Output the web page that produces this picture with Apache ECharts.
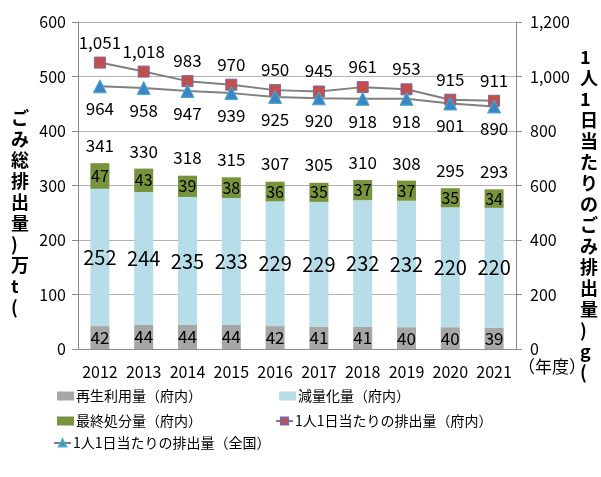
<!DOCTYPE html>
<html>
<head>
<meta charset="utf-8">
<script src="https://cdn.jsdelivr.net/npm/echarts@6/dist/echarts.min.js"></script>
<style>
html, body { margin: 0; padding: 0; background: #fff; }
#main { width: 601px; height: 477px; }
</style>
</head>
<body>
<div id="main"></div>
<script>
// 年度
var years = ['2012', '2013', '2014', '2015', '2016', '2017', '2018', '2019', '2020', '2021'];
// 万t
var recycle = [42, 44, 44, 44, 42, 41, 41, 40, 40, 39];
var reduce = [252, 244, 235, 233, 229, 229, 232, 232, 220, 220];
var landfill = [47, 43, 39, 38, 36, 35, 37, 37, 35, 34];
var total = [341, 330, 318, 315, 307, 305, 310, 308, 295, 293];
// g/人日
var perCapitaPref = [1051, 1018, 983, 970, 950, 945, 961, 953, 915, 911];
var perCapitaNation = [964, 958, 947, 939, 925, 920, 918, 918, 901, 890];

var FONT = '"Noto Sans CJK JP", "Noto Sans", sans-serif';

function fmt(v) {
    return String(v).replace(/\B(?=(\d{3})+(?!\d))/g, ',');
}

function vertical(s) {
    return s.split('').join('\n');
}

var myChart = echarts.init(document.getElementById('main'));

myChart.setOption({
    animation: false,
    textStyle: { fontFamily: FONT, color: '#000' },
    grid: { left: 78, right: 85, top: 22, bottom: 128 },
    legend: [
        { left: 57, top: 389, data: [{ name: '再生利用量（府内）', icon: 'rect' }] },
        { left: 279, top: 389, data: [{ name: '減量化量（府内）', icon: 'rect' }] },
        { left: 57, top: 414, data: [{ name: '最終処分量（府内）', icon: 'rect' }] },
        { left: 275, top: 414, data: ['1人1日当たりの排出量（府内）'] },
        { left: 53, top: 436, data: ['1人1日当たりの排出量（全国）'] }
    ].map(function (l) {
        return Object.assign(l, {
            padding: 0,
            itemWidth: 17, itemHeight: 9, itemGap: 4,
            textStyle: { fontSize: 14, color: '#000', fontFamily: FONT, padding: [0, 0, 0, -3] }
        });
    }),
    xAxis: {
        type: 'category',
        data: years,
        axisLine: { lineStyle: { color: '#8c8c8c' } },
        axisTick: { length: 5, lineStyle: { color: '#8c8c8c' } },
        axisLabel: { interval: 0, fontSize: 16, color: '#000', margin: 15 }
    },
    yAxis: [{
        type: 'value',
        min: 0, max: 600, interval: 100,
        axisLine: { show: true, lineStyle: { color: '#8c8c8c' } },
        axisTick: { show: true, length: 6, lineStyle: { color: '#8c8c8c' } },
        axisLabel: { fontSize: 16, color: '#000', margin: 12 },
        splitLine: { lineStyle: { color: '#b3b3b3' } }
    }, {
        type: 'value',
        min: 0, max: 1200, interval: 200,
        axisLine: { show: true, lineStyle: { color: '#8c8c8c' } },
        axisTick: { show: true, length: 6, lineStyle: { color: '#8c8c8c' } },
        axisLabel: { fontSize: 16, color: '#000', margin: 14, formatter: fmt },
        splitLine: { show: false }
    }],
    graphic: [{
        type: 'text', left: 11, top: 108,
        style: { text: vertical('ごみ総排出量)万t('), font: 'bold 18px ' + FONT, lineHeight: 21, fill: '#000', align: 'center' }
    }, {
        type: 'text', left: 580, top: 47,
        style: { text: vertical('1人1日当たりのごみ排出量)g('), font: 'bold 18px ' + FONT, lineHeight: 21, fill: '#000', align: 'center' }
    }, {
        type: 'text', left: 518, top: 358,
        style: { text: '（年度）', font: '17px ' + FONT, fill: '#000' }
    }],
    series: [{
        name: '再生利用量（府内）',
        type: 'bar', stack: 'total', barWidth: 19,
        data: recycle,
        itemStyle: { color: '#a6a6a6' },
        label: { show: true, position: 'inside', fontSize: 17, color: '#000' }
    }, {
        name: '減量化量（府内）',
        type: 'bar', stack: 'total',
        data: reduce,
        itemStyle: { color: '#b7dde8' },
        label: { show: true, position: 'inside', fontSize: 20, color: '#000' }
    }, {
        name: '最終処分量（府内）',
        type: 'bar', stack: 'total',
        data: landfill,
        itemStyle: { color: '#77933c' },
        label: { show: true, position: 'inside', fontSize: 16, color: '#000' }
    }, {
        name: '合計',
        type: 'scatter',
        data: total,
        symbolSize: 1,
        itemStyle: { color: 'rgba(255,255,255,0)', opacity: 1 },
        label: { show: true, position: 'top', distance: 9, fontSize: 17, color: '#000', opacity: 1 },
        silent: true
    }, {
        name: '1人1日当たりの排出量（府内）',
        type: 'line', yAxisIndex: 1,
        data: perCapitaPref,
        symbol: 'rect', symbolSize: 11,
        lineStyle: { color: '#808080', width: 2 },
        itemStyle: { color: '#c0504d', borderColor: '#8064a2', borderWidth: 1 },
        label: { show: true, position: 'top', distance: 6, fontSize: 17, color: '#000', formatter: function (p) { return fmt(p.value); } }
    }, {
        name: '1人1日当たりの排出量（全国）',
        type: 'line', yAxisIndex: 1,
        data: perCapitaNation,
        symbol: 'triangle', symbolSize: 13,
        lineStyle: { color: '#808080', width: 2 },
        itemStyle: { color: '#3d86c6', borderColor: '#4bacc6', borderWidth: 1 },
        label: { show: true, position: 'bottom', distance: 7, fontSize: 17, color: '#000' }
    }]
});
</script>
</body>
</html>
